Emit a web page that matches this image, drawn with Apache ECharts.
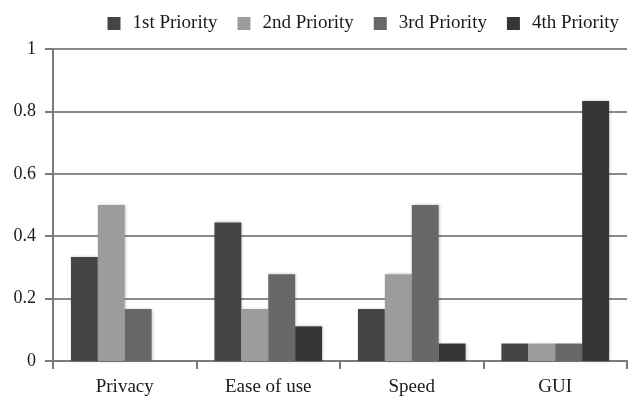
<!DOCTYPE html>
<html>
<head>
<meta charset="utf-8">
<script src="https://cdn.jsdelivr.net/npm/echarts@6/dist/echarts.min.js"></script>
<style>
  html, body { margin: 0; padding: 0; background: #fff; }
  #chart { width: 634px; height: 397px; }
</style>
</head>
<body>
<div id="chart"></div>
<script>
// Categories and priority shares
const categories = ['Privacy', 'Ease of use', 'Speed', 'GUI'];
const seriesNames = ['1st Priority', '2nd Priority', '3rd Priority', '4th Priority'];
const first  = [0.333, 0.444, 0.167, 0.056];
const second = [0.5, 0.167, 0.278, 0.056];
const third  = [0.167, 0.278, 0.5, 0.056];
const fourth = [0, 0.111, 0.056, 0.833];
const yTicks = [0, 0.2, 0.4, 0.6, 0.8, 1];

const colors = ['#454545', '#9c9c9c', '#686868', '#363636'];
const values = [first, second, third, fourth];
const serif = '"Liberation Serif", "DejaVu Serif", serif';

const chart = echarts.init(document.getElementById('chart'));
chart.setOption({
  animation: false,
  color: colors,
  textStyle: { fontFamily: serif },
  legend: {
    top: 9,
    right: 10,
    itemWidth: 13,
    itemHeight: 13,
    itemGap: 20,
    icon: 'rect',
    textStyle: { fontFamily: serif, fontSize: 19, color: '#1a1a1a', padding: [0, 0, 0, 7] },
    data: seriesNames
  },
  grid: { left: 53, right: 7, top: 49, bottom: 35 },
  xAxis: {
    type: 'category',
    data: categories,
    axisLine: { lineStyle: { color: '#7a7a7a', width: 2 } },
    axisTick: { show: true, length: 8, lineStyle: { color: '#7a7a7a', width: 2 } },
    axisLabel: { fontFamily: serif, fontSize: 19, color: '#1a1a1a', margin: 17 }
  },
  yAxis: {
    type: 'value',
    min: yTicks[0],
    max: yTicks[yTicks.length - 1],
    interval: 0.2,
    axisLine: { show: true, lineStyle: { color: '#7a7a7a', width: 2 } },
    axisTick: { show: true, length: 8, lineStyle: { color: '#7a7a7a', width: 2 } },
    splitLine: { lineStyle: { color: '#8a8a8a', width: 2 } },
    axisLabel: { fontFamily: serif, fontSize: 18, color: '#1a1a1a', margin: 17 }
  },
  series: seriesNames.map((name, i) => ({
    name,
    type: 'bar',
    data: values[i],
    barGap: '0%',
    barCategoryGap: '25%',
    itemStyle: {
      color: colors[i],
      shadowColor: 'rgba(0,0,0,0.25)',
      shadowBlur: 3,
      shadowOffsetX: 1,
      shadowOffsetY: 0
    }
  }))
});
</script>
</body>
</html>
